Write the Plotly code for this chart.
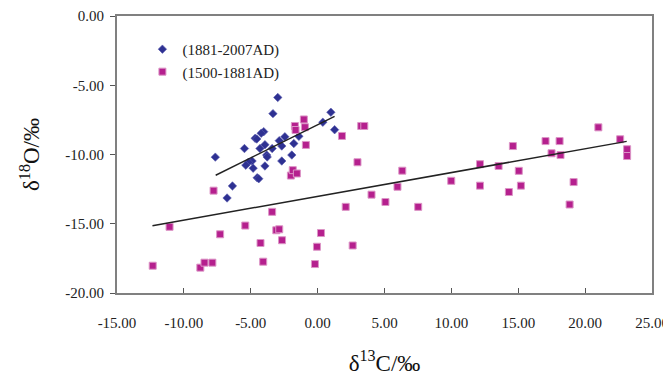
import plotly.graph_objects as go

# --- data ---
blue_name = "(1881-2007AD)"
blue_c13 = [-2.98, -3.34, 0.99, 0.39, 1.27, -4.03, -4.22, -4.67, -4.55, -2.45,
            -1.40, -2.87, -2.68, -1.78, -3.94, -5.47, -4.31, -3.40, -3.81, -3.77,
            -1.93, -7.65, -4.90, -5.17, -5.37, -2.68, -3.94, -4.82, -4.52, -4.40,
            -6.37, -6.77]
blue_o18 = [-5.88, -7.05, -6.95, -7.67, -8.21, -8.35, -8.47, -8.83, -8.88, -8.72,
            -8.69, -9.00, -9.39, -9.21, -9.29, -9.57, -9.57, -9.57, -10.04, -10.18,
            -10.04, -10.19, -10.47, -10.56, -10.77, -10.47, -10.83, -10.99, -11.68, -11.75,
            -12.27, -13.14]

mag_name = "(1500-1881AD)"
mag_c13 = [-12.33, -11.07, -8.77, -8.46, -7.87, -7.78, -7.29, -5.41, -4.27, -4.07,
           -3.40, -3.09, -2.87, -2.66, -2.00, -1.86, -1.55, -1.70, -1.65, -1.03,
           -0.95, -0.88, -0.20, -0.05, 0.25, 1.82, 2.10, 2.62, 2.98, 3.26,
           3.49, 4.03, 5.07, 5.97, 6.33, 7.52, 9.99, 12.14, 12.14, 13.53,
           14.30, 14.60, 15.04, 15.20, 17.04, 17.49, 18.09, 18.16, 18.84, 19.14,
           20.99, 22.62, 23.14, 23.14]
mag_o18 = [-18.03, -15.22, -18.17, -17.81, -17.81, -12.61, -15.76, -15.13, -16.39, -17.74,
           -14.14, -15.47, -15.40, -16.19, -11.52, -11.13, -11.37, -7.94, -8.23, -7.47,
           -8.03, -9.31, -17.91, -16.66, -15.67, -8.66, -13.78, -16.57, -10.56, -7.94,
           -7.94, -12.90, -13.43, -12.33, -11.17, -13.78, -11.90, -10.70, -12.25, -10.83,
           -12.71, -9.39, -11.18, -12.25, -9.03, -9.91, -9.03, -10.04, -13.61, -11.99,
           -8.04, -8.90, -9.62, -10.11]

# linear trend lines (slope, intercept, x extent)
blue_trend_slope, blue_trend_intercept = 0.479, -7.85
blue_trend_x = [-7.62, 1.27]
mag_trend_slope, mag_trend_intercept = 0.1717, -13.02
mag_trend_x = [-12.35, 23.11]

x_ticks = [-15, -10, -5, 0, 5, 10, 15, 20, 25]
x_tick_labels = ["-15.00", "-10.00", "-5.00", "0.00", "5.00", "10.00", "15.00", "20.00", "25.00"]
y_ticks = [-20, -15, -10, -5, 0]
y_tick_labels = ["-20.00", "-15.00", "-10.00", "-5.00", "0.00"]

BLUE = "#2E3192"
MAGENTA = "#B5208E"
SERIF = "Liberation Serif, Times New Roman, serif"

fig = go.Figure()
fig.add_trace(go.Scatter(
    x=blue_c13, y=blue_o18, mode="markers", name=blue_name,
    legendgroup="a",
    marker=dict(symbol="diamond", size=6.5, color=BLUE,
                line=dict(width=0.6, color="#5a5db0"))))
fig.add_trace(go.Scatter(
    x=mag_c13, y=mag_o18, mode="markers", name=mag_name,
    legendgroup="b",
    marker=dict(symbol="square", size=7, color=MAGENTA,
                line=dict(width=1, color="#dc95c6"))))
fig.add_trace(go.Scatter(
    x=blue_trend_x, y=[blue_trend_slope * v + blue_trend_intercept for v in blue_trend_x],
    mode="lines", line=dict(color="#222222", width=1.5), showlegend=False, hoverinfo="skip"))
fig.add_trace(go.Scatter(
    x=mag_trend_x, y=[mag_trend_slope * v + mag_trend_intercept for v in mag_trend_x],
    mode="lines", line=dict(color="#222222", width=1.5), showlegend=False, hoverinfo="skip"))

axis_common = dict(showgrid=False, zeroline=False, showline=True, linecolor="#808080",
                   linewidth=2, mirror=True,
                   tickfont=dict(family=SERIF, size=15, color="#222222"),
                   tickcolor="#555555", tickwidth=1)

fig.update_xaxes(range=[-15, 25], tickmode="array", tickvals=x_ticks, ticktext=x_tick_labels,
                 ticks="inside", ticklen=5, ticklabelstandoff=15,
                 title=dict(text="δ<sup>13</sup>C/‰", standoff=27,
                            font=dict(family=SERIF, size=23, color="#111111")),
                 **axis_common)
fig.update_yaxes(range=[-20, 0], tickmode="array", tickvals=y_ticks, ticktext=y_tick_labels,
                 ticks="outside", ticklen=5, ticklabelstandoff=3,
                 title=dict(text="δ<sup>18</sup>O/‰", standoff=19,
                            font=dict(family=SERIF, size=23, color="#111111")),
                 **axis_common)

# page body has an 8px margin, so the figure is 8px smaller and margins shifted
fig.update_layout(
    width=663, height=368,
    margin=dict(l=109, r=19, t=8, b=83, autoexpand=False),
    paper_bgcolor="white", plot_bgcolor="white",
    showlegend=True,
    legend=dict(x=0.0475, y=0.939, xanchor="left", yanchor="top",
                bgcolor="rgba(0,0,0,0)", traceorder="grouped", tracegroupgap=0,
                font=dict(family=SERIF, size=15, color="#222222"),
                itemwidth=30),
)

fig.write_html("out.html")
